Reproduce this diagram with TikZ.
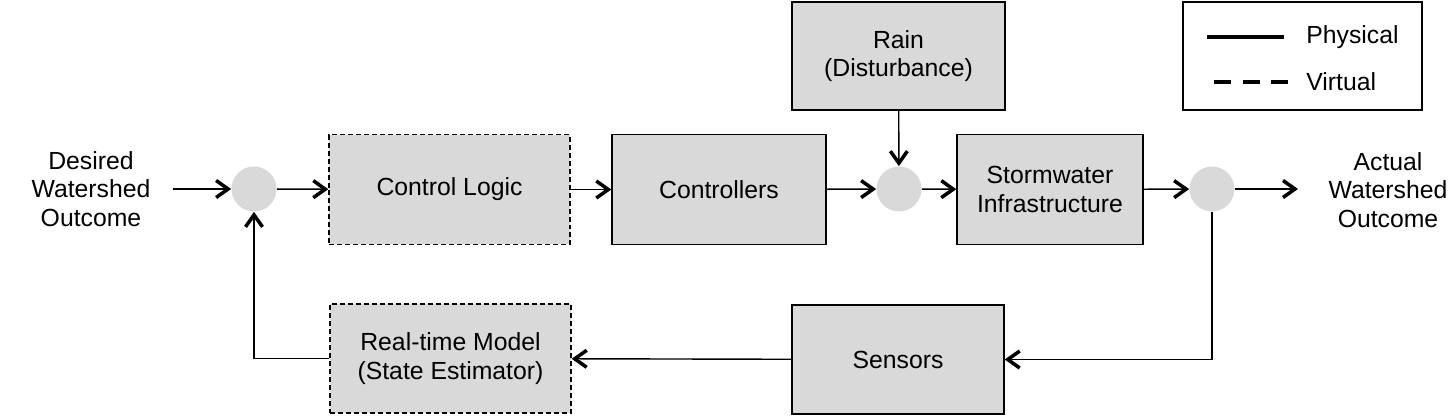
\documentclass[tikz,border=0pt]{standalone}
\usepackage{fontspec}
\setmainfont{Liberation Sans}
\usetikzlibrary{arrows.meta,positioning}
\definecolor{boxG}{RGB}{217,217,217}

\begin{document}
\begin{tikzpicture}[x=0.02cm,y=-0.02cm,>={Straight Barb[length=2.4mm,width=3.4mm,line width=2pt]},
  font=\fontsize{14.1pt}{16.4pt}\selectfont,
  phys/.style={draw=black,line width=0.8pt,fill=boxG,minimum height=2.2cm,inner sep=0pt,align=center},
  virt/.style={phys,dash pattern=on 1mm off 0.6mm},
  sumpt/.style={circle,fill=boxG,minimum size=0.9cm,inner sep=0pt},
  sig/.style={->,line width=0.8pt},
  lab/.style={align=center,inner sep=0pt}]
\useasboundingbox (0,0) rectangle (1453,416);
% forward path
\node[lab] (desired) at (91,189) {Desired\\Watershed\\Outcome};
\coordinate (inp) at (173,189);
\node[sumpt] (s1) at (254,189) {};
\node[virt,minimum width=4.82cm] (ctrlLogic) at (449.5,189.5) {Control Logic};
\node[phys,minimum width=4.28cm] (controllers) at (719,189.5) {Controllers};
\node[phys,minimum width=4.26cm,minimum height=2.16cm] (rain) at (898.5,56) {Rain\\(Disturbance)};
\node[sumpt] (s2) at (899,189) {};
\node[phys,minimum width=3.72cm] (storm) at (1050,189.5) {Stormwater\\Infrastructure};
\node[sumpt] (s3) at (1212,189) {};
\coordinate (outp) at (1298,189);
\node[lab] (actual) at (1388,190) {Actual\\Watershed\\Outcome};
% feedback path
\node[phys,minimum width=4.24cm,minimum height=2.18cm] (sensors) at (898,359.5) {Sensors};
\node[virt,minimum width=4.82cm,minimum height=2.18cm] (model) at (450.5,358.5) {Real-time Model\\(State Estimator)};
\draw[sig] (inp) -- (s1);
\draw[sig] (s1) -- (ctrlLogic);
\draw[sig] (ctrlLogic) -- (controllers);
\draw[sig] (controllers) -- (s2);
\draw[sig] (rain) -- (s2);
\draw[sig] (s2) -- (storm);
\draw[sig] (storm) -- (s3);
\draw[sig] (s3) -- (outp);
\draw[sig] (s3) |- (sensors);
\draw[sig] (sensors) -- (model);
\draw[sig] (model) -| (s1);
% legend
\node[draw=black,line width=0.8pt,minimum width=4.78cm,minimum height=2.16cm,inner sep=0pt] (legend) at (1302.5,56) {};
\coordinate (pa) at (1207,37);
\coordinate (pb) at (1284,37);
\coordinate (va) at (1214,82);
\coordinate (vb) at (1288,82);
\draw[line width=2.2pt] (pa) -- (pb);
\draw[line width=2.2pt,dash pattern=on 3.4mm off 2.3mm] (va) -- (vb);
\node[lab,anchor=west] (physTxt) at (1306,37) {Physical};
\node[lab,anchor=west] (virtTxt) at (1306,82) {Virtual};
\end{tikzpicture}
\end{document}
